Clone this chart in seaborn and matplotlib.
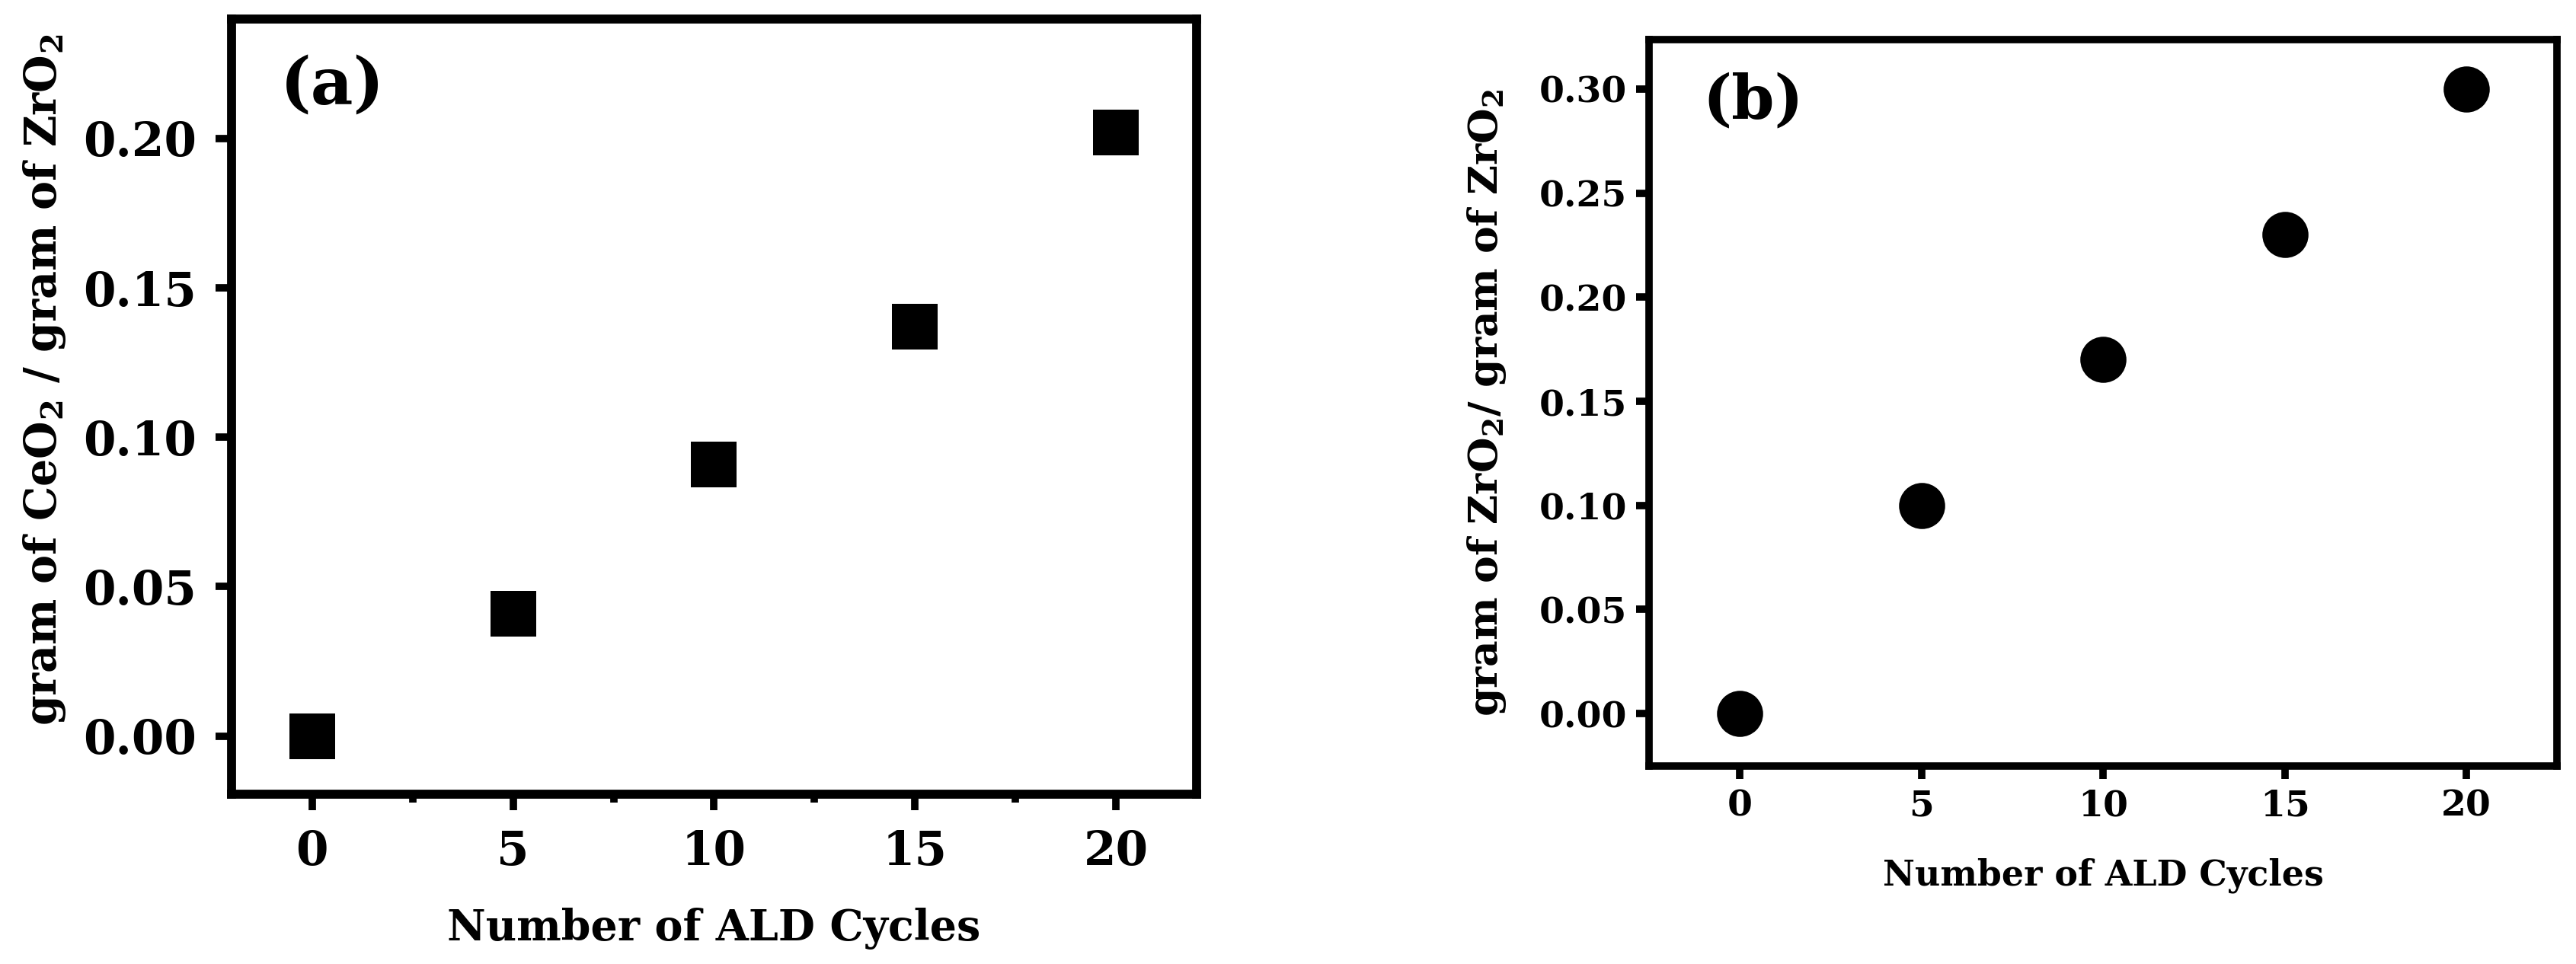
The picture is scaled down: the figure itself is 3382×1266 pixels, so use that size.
import matplotlib
matplotlib.use('Agg')
import matplotlib.pyplot as plt
import seaborn as sns
from matplotlib.ticker import MultipleLocator

# data
cycles = [0, 5, 10, 15, 20]
ceo2_per_zro2 = [0.000, 0.041, 0.091, 0.137, 0.202]
zro2_per_zro2 = [0.000, 0.100, 0.170, 0.230, 0.300]

xlabel = 'Number of ALD Cycles'
ylabel_a = r'gram of CeO$_{2}$ / gram of ZrO$_{2}$'
ylabel_b = r'gram of ZrO$_{2}$/ gram of ZrO$_{2}$'

sns.set_style('ticks')
plt.rcParams['font.family'] = ['DejaVu Serif']
plt.rcParams['font.weight'] = 'bold'
plt.rcParams['mathtext.fontset'] = 'custom'
plt.rcParams['mathtext.rm'] = 'DejaVu Serif:bold'
plt.rcParams['mathtext.it'] = 'DejaVu Serif:bold'
plt.rcParams['mathtext.bf'] = 'DejaVu Serif:bold'
# seaborn greys the text, the original is plain black
for key in ['text.color', 'axes.labelcolor', 'xtick.color', 'ytick.color',
            'axes.edgecolor']:
    plt.rcParams[key] = 'black'

fig = plt.figure(figsize=(33.82, 12.66), dpi=100)
ax1 = fig.add_axes([0.0899, 0.1761, 0.3746, 0.8041])
ax2 = fig.add_axes([0.6402, 0.2054, 0.3525, 0.7536])


# ----------------------------------------------------------------------------
def style_axis(ax, spine_w, tick_len, tick_w, label_size, pad):
    for s in ax.spines.values():
        s.set_linewidth(spine_w)
        s.set_color('black')
    ax.tick_params(axis='both', which='major', direction='out', length=tick_len,
                   width=tick_w, labelsize=label_size, pad=pad, color='black',
                   labelcolor='black')
    for lab in ax.get_xticklabels() + ax.get_yticklabels():
        lab.set_fontweight('bold')


# ----------------------------------------------------------------------------
# (a)
sns.scatterplot(x=cycles, y=ceo2_per_zro2, marker='s', s=1900, color='black',
                linewidth=0, ax=ax1)
ax1.set_xlim(-2, 22)
ax1.set_ylim(-0.0195, 0.24)
ax1.xaxis.set_major_locator(MultipleLocator(5))
ax1.xaxis.set_minor_locator(MultipleLocator(2.5))
ax1.yaxis.set_major_locator(MultipleLocator(0.05))
ax1.set_yticks(ax1.get_yticks())
ax1.set_yticklabels(['%.2f' % t for t in ax1.get_yticks()])
ax1.set_ylim(-0.0195, 0.24)
style_axis(ax1, 8.5, 15, 7, 44, 18)
ax1.tick_params(axis='x', which='minor', direction='out', length=8, width=7)
ax1.set_xlabel(xlabel, fontsize=40, fontweight='bold', va='center')
ax1.set_ylabel(ylabel_a, fontsize=41, fontweight='bold', va='center')
ax1.xaxis.set_label_coords(0.5, -0.173)
ax1.yaxis.set_label_coords(-0.194, 0.535)
ax1.text(0.05, 0.955, '(a)', transform=ax1.transAxes, fontsize=62,
         fontweight='bold', ha='left', va='top')

# (b)
sns.scatterplot(x=cycles, y=zro2_per_zro2, marker='o', s=1900, color='black',
                linewidth=0, ax=ax2)
ax2.set_xlim(-2.5, 22.5)
ax2.set_ylim(-0.0252, 0.3238)
ax2.xaxis.set_major_locator(MultipleLocator(5))
ax2.yaxis.set_major_locator(MultipleLocator(0.05))
ax2.set_yticks(ax2.get_yticks())
ax2.set_yticklabels(['%.2f' % t for t in ax2.get_yticks()])
ax2.set_ylim(-0.0252, 0.3238)
style_axis(ax2, 7, 12, 7, 34, 9)
ax2.set_xlabel(xlabel, fontsize=33, fontweight='bold', va='center')
ax2.set_ylabel(ylabel_b, fontsize=38.5, fontweight='bold', va='center')
ax2.xaxis.set_label_coords(0.5, -0.151)
ax2.yaxis.set_label_coords(-0.179, 0.5)
ax2.text(0.059, 0.955, '(b)', transform=ax2.transAxes, fontsize=58,
         fontweight='bold', ha='left', va='top')

fig.savefig('out.png', dpi=100)
